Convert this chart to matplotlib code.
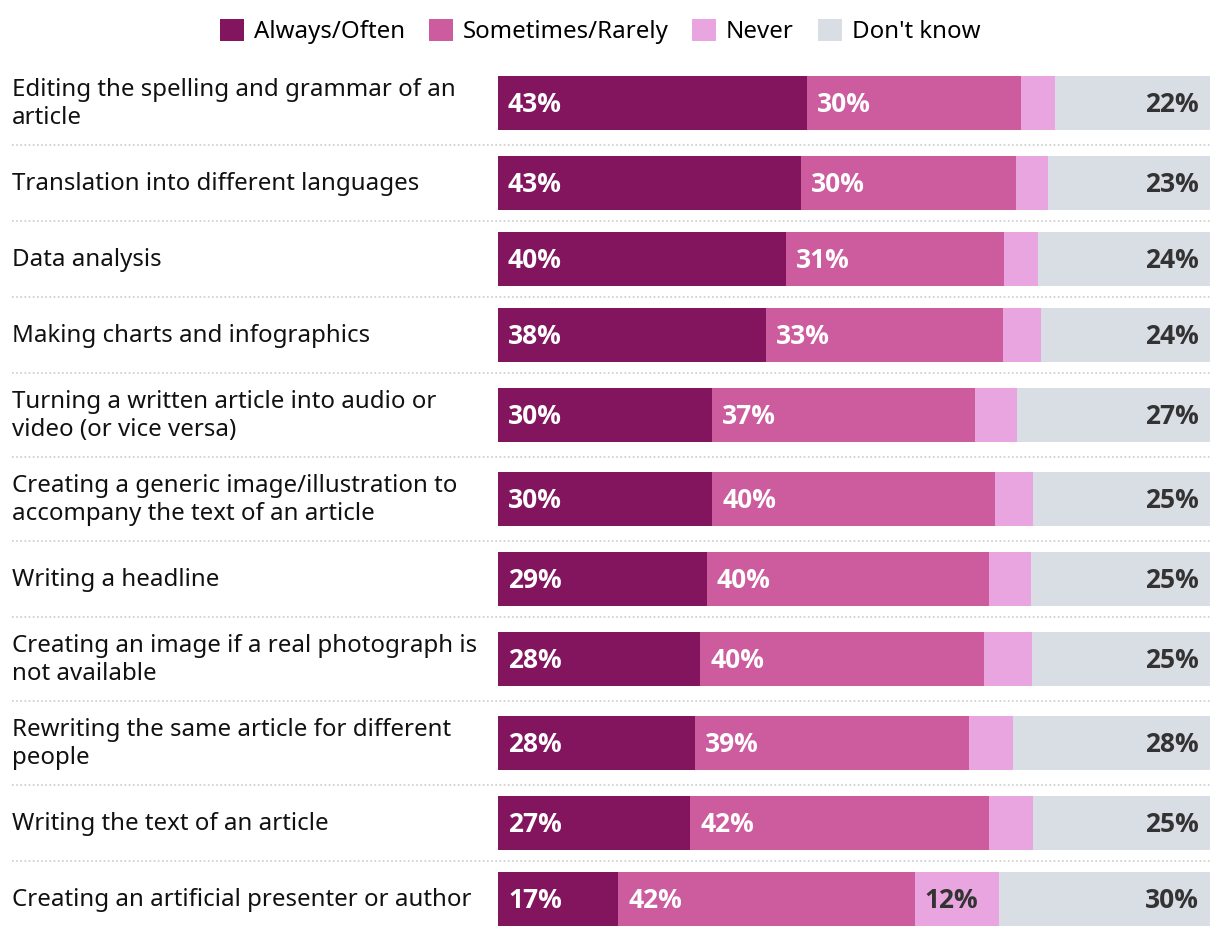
import matplotlib.pyplot as plt
import matplotlib.transforms as mtransforms
import numpy as np

plt.rcParams["font.family"] = ["Noto Sans", "DejaVu Sans"]

categories = [
    "Editing the spelling and grammar of an\narticle",
    "Translation into different languages",
    "Data analysis",
    "Making charts and infographics",
    "Turning a written article into audio or\nvideo (or vice versa)",
    "Creating a generic image/illustration to\naccompany the text of an article",
    "Writing a headline",
    "Creating an image if a real photograph is\nnot available",
    "Rewriting the same article for different\npeople",
    "Writing the text of an article",
    "Creating an artificial presenter or author",
]
always = [43.4, 42.6, 40.4, 37.7, 30.1, 30.1, 29.3, 28.4, 27.6, 27.0, 16.9]
sometimes = [30.1, 30.1, 30.7, 33.2, 36.9, 39.7, 39.7, 39.8, 38.6, 42.0, 41.6]
never = [4.8, 4.5, 4.8, 5.4, 5.9, 5.4, 5.9, 6.8, 6.2, 6.2, 11.9]
dont_know = [21.7, 22.8, 24.1, 23.7, 27.1, 24.8, 25.1, 25.0, 27.6, 24.8, 29.6]

series_names = ["Always/Often", "Sometimes/Rarely", "Never", "Don't know"]
colors = ["#82155e", "#cc5c9e", "#e8a5e0", "#d9dee5"]
text_colors = ["white", "white", "#333333", "#333333"]

W, H = 1220, 938
fig = plt.figure(figsize=(W / 100, H / 100), dpi=100)
ax = fig.add_axes([498 / W, 0, (1210 - 498) / W, 1])
ax.set_xlim(0, 100)
ax.set_ylim(H, 0)
ax.axis("off")

# row layout in pixel units: taller rows for two-line labels
n_lines = np.array([c.count("\n") + 1 for c in categories])
row_h = np.where(n_lines > 1, 84, 76)
tops = 61 + np.concatenate([[0], np.cumsum(row_h)[:-1]])
centers = tops + row_h / 2
bar_h = 54

pct_font = dict(fontsize=19, fontweight="bold", family=["Open Sans", "DejaVu Sans"])

data = np.array([always, sometimes, never, dont_know])
left = np.zeros(len(categories))
for k, name in enumerate(series_names):
    vals = data[k]
    ax.barh(centers, vals, left=left, height=bar_h, color=colors[k], label=name)
    for i, v in enumerate(vals):
        lab = f"{round(v):.0f}%"
        # y axis is in pixels, baseline sits half a cap height below centre
        if k == 3:
            ax.text(left[i] + v - 1.6, centers[i] + 9.5, lab, ha="right", va="baseline",
                    color=text_colors[k], **pct_font)
        elif v >= 8:
            ax.text(left[i] + 1.4, centers[i] + 9.5, lab, ha="left", va="baseline",
                    color=text_colors[k], **pct_font)
    left += vals

trans = mtransforms.blended_transform_factory(fig.transFigure, ax.transData)
for i, cat in enumerate(categories):
    ax.text(12 / W, centers[i] + 1, cat, transform=trans, ha="left", va="center",
            fontsize=17.3, color="#111111", linespacing=1.25)

for y in (tops + row_h)[:-1]:
    ax.plot([12 / W, 1210 / W], [y, y], transform=trans, color="#cccccc",
            linestyle=(0, (1, 1.5)), linewidth=1.2, clip_on=False)

fig.legend(loc="upper center", bbox_to_anchor=(600 / W, 1.0), ncol=4, frameon=False,
           fontsize=17.3, handlelength=1.0, handleheight=1.0, handletextpad=0.4,
           columnspacing=1.0, borderaxespad=0.4)

fig.savefig("out.png", dpi=100)
